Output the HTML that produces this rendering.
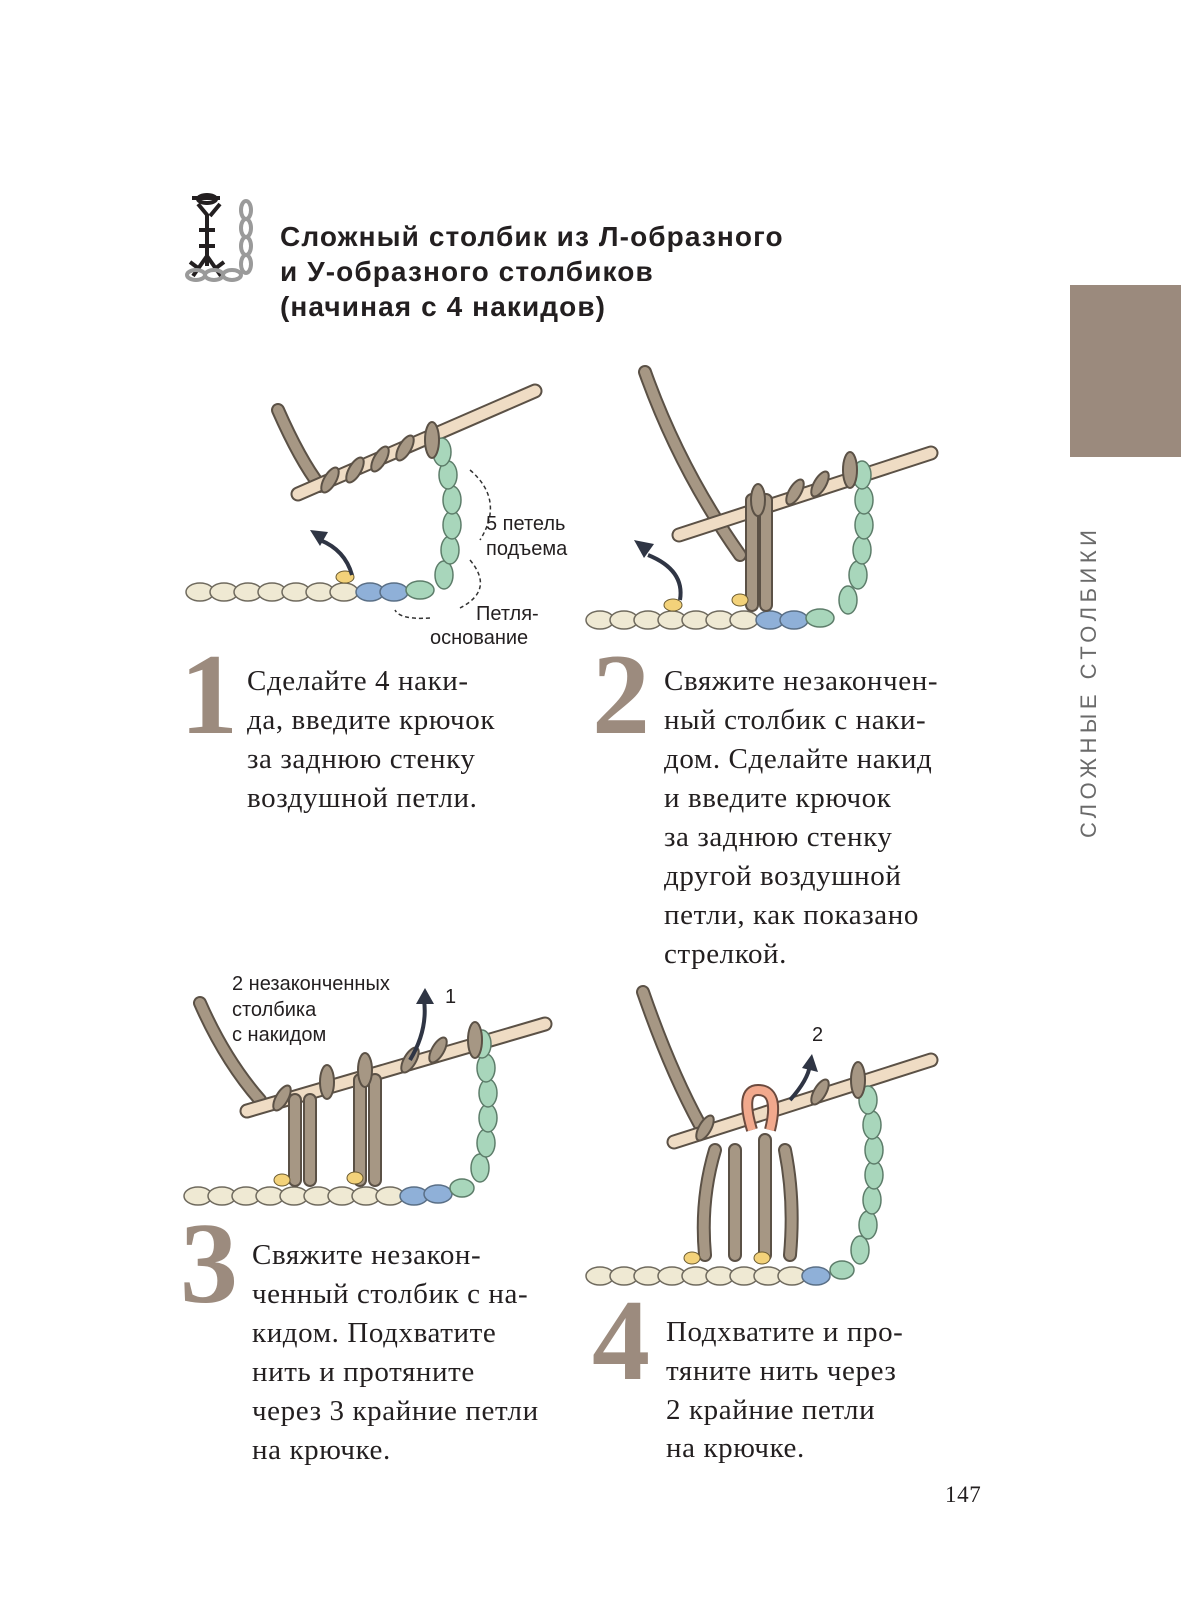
<!DOCTYPE html>
<html><head><meta charset="utf-8"><style>
html,body{margin:0;padding:0;background:#fff}
svg{display:block}
.t{font-family:"Liberation Serif",serif;font-size:29px;letter-spacing:0.6px;fill:#231f20}
.n{font-family:"Liberation Serif",serif;font-weight:bold;font-size:116px;fill:#9c8b7e}
.h{font-family:"Liberation Sans",sans-serif;font-weight:bold;font-size:28px;letter-spacing:1.1px;fill:#231f20}
.l{font-family:"Liberation Sans",sans-serif;font-size:20px;fill:#231f20}
.c{fill:#efe9d3;stroke:#6f6a5e;stroke-width:1.5}
.b{fill:#8fb0d8;stroke:#5a6f86;stroke-width:1.5}
.g{fill:#a8d6bb;stroke:#5d7d6a;stroke-width:1.5}
.y{fill:none;stroke:#5b5146;stroke-width:14;stroke-linecap:round}
.yi{fill:none;stroke:#a69784;stroke-width:10;stroke-linecap:round}
.hk{stroke:#5b5146;stroke-width:15;stroke-linecap:round}
.hki{stroke:#efdcc4;stroke-width:11;stroke-linecap:round}
</style></head><body>
<svg width="1181" height="1614" viewBox="0 0 1181 1614" xmlns="http://www.w3.org/2000/svg">
<rect x="1070" y="285" width="111" height="172" fill="#9b8a7d"/>
<text transform="translate(1096,838) rotate(-90)" style="font-family:'Liberation Sans',sans-serif;font-size:22px;letter-spacing:4.5px;fill:#6a6a6a">СЛОЖНЫЕ СТОЛБИКИ</text>

<!-- icon -->
<g stroke="#231f20" stroke-width="4" fill="none">
<path d="M192 198h28M198 204l10 12M220 204l-10 12M207 214v52M199 230h16M199 246h16M207 256l-14 20M207 256l14 20M190 262l8 6M224 262l-8 6"/>
<ellipse cx="207" cy="199" rx="9" ry="4"/>
</g>
<g fill="none" stroke="#9a9a9a" stroke-width="4">
<ellipse cx="246" cy="210" rx="5" ry="9"/><ellipse cx="246" cy="228" rx="5" ry="9"/><ellipse cx="246" cy="246" rx="5" ry="9"/><ellipse cx="246" cy="264" rx="5" ry="9"/>
<ellipse cx="196" cy="275" rx="9" ry="5"/><ellipse cx="214" cy="275" rx="9" ry="5"/><ellipse cx="232" cy="275" rx="9" ry="5"/>
</g>
<text class="h" x="280" y="246">Сложный столбик из Л-образного</text>
<text class="h" x="280" y="281">и У-образного столбиков</text>
<text class="h" x="280" y="316">(начиная с 4 накидов)</text>

<!-- Panel 1 -->
<path class="y" d="M278 410 Q300 460 320 486"/><path class="yi" d="M278 410 Q300 460 320 486"/>
<line class="hk" x1="298" y1="494" x2="535" y2="391"/><line class="hki" x1="298" y1="494" x2="535" y2="391"/>
<g class="c"><ellipse cx="200" cy="592" rx="14" ry="9"/><ellipse cx="224" cy="592" rx="14" ry="9"/><ellipse cx="248" cy="592" rx="14" ry="9"/><ellipse cx="272" cy="592" rx="14" ry="9"/><ellipse cx="296" cy="592" rx="14" ry="9"/><ellipse cx="320" cy="592" rx="14" ry="9"/><ellipse cx="344" cy="592" rx="14" ry="9"/></g>
<g class="b"><ellipse cx="370" cy="592" rx="14" ry="9"/><ellipse cx="394" cy="592" rx="14" ry="9"/></g>
<g class="g"><ellipse cx="420" cy="590" rx="14" ry="9"/><ellipse cx="444" cy="575" rx="9" ry="14"/><ellipse cx="450" cy="550" rx="9" ry="14"/><ellipse cx="452" cy="525" rx="9" ry="14"/><ellipse cx="452" cy="500" rx="9" ry="14"/><ellipse cx="448" cy="475" rx="9" ry="14"/><ellipse cx="442" cy="452" rx="9" ry="14"/></g>
<g fill="#a69784" stroke="#5b5146" stroke-width="2"><ellipse cx="330" cy="480" rx="6" ry="14" transform="rotate(30 330 480)"/><ellipse cx="355" cy="470" rx="6" ry="14" transform="rotate(30 355 470)"/><ellipse cx="380" cy="459" rx="6" ry="14" transform="rotate(30 380 459)"/><ellipse cx="405" cy="448" rx="6" ry="14" transform="rotate(30 405 448)"/><ellipse cx="432" cy="440" rx="7" ry="18"/></g>
<ellipse cx="345" cy="577" rx="9" ry="6" fill="#f3d27a" stroke="#6a5a30"/>
<path d="M352 575 Q345 550 320 540" fill="none" stroke="#2f3544" stroke-width="4"/><path d="M310 530 l18 2 -8 14z" fill="#2f3544"/>
<path d="M470 470 Q505 500 480 540 M470 560 Q495 590 460 608 M430 618 Q400 620 395 610" fill="none" stroke="#333" stroke-width="1.5" stroke-dasharray="4 3"/>
<text class="l" x="486" y="530">5 петель</text><text class="l" x="486" y="555">подъема</text>
<text class="l" x="476" y="620">Петля-</text><text class="l" x="430" y="644">основание</text>

<text class="n" x="180" y="733">1</text>
<text class="t"><tspan x="247" y="690">Сделайте 4 наки-</tspan><tspan x="247" y="729">да, введите крючок</tspan><tspan x="247" y="768">за заднюю стенку</tspan><tspan x="247" y="807">воздушной петли.</tspan></text>

<!-- Panel 2 -->
<path class="y" d="M645 372 Q680 470 740 555"/><path class="yi" d="M645 372 Q680 470 740 555"/>
<line class="hk" x1="679" y1="535" x2="931" y2="453"/><line class="hki" x1="679" y1="535" x2="931" y2="453"/>
<g class="c"><ellipse cx="600" cy="620" rx="14" ry="9"/><ellipse cx="624" cy="620" rx="14" ry="9"/><ellipse cx="648" cy="620" rx="14" ry="9"/><ellipse cx="672" cy="620" rx="14" ry="9"/><ellipse cx="696" cy="620" rx="14" ry="9"/><ellipse cx="720" cy="620" rx="14" ry="9"/><ellipse cx="744" cy="620" rx="14" ry="9"/></g>
<g class="b"><ellipse cx="770" cy="620" rx="14" ry="9"/><ellipse cx="794" cy="620" rx="14" ry="9"/></g>
<g class="g"><ellipse cx="820" cy="618" rx="14" ry="9"/><ellipse cx="848" cy="600" rx="9" ry="14"/><ellipse cx="858" cy="575" rx="9" ry="14"/><ellipse cx="862" cy="550" rx="9" ry="14"/><ellipse cx="864" cy="525" rx="9" ry="14"/><ellipse cx="864" cy="500" rx="9" ry="14"/><ellipse cx="862" cy="475" rx="9" ry="14"/></g>
<g><path class="y" d="M752 500 L752 605 M766 500 L766 605"/><path class="yi" d="M752 500 L752 605 M766 500 L766 605"/></g>
<g fill="#a69784" stroke="#5b5146" stroke-width="2"><ellipse cx="758" cy="500" rx="7" ry="16"/><ellipse cx="795" cy="492" rx="6" ry="14" transform="rotate(30 795 492)"/><ellipse cx="820" cy="484" rx="6" ry="14" transform="rotate(30 820 484)"/><ellipse cx="850" cy="470" rx="7" ry="18"/></g>
<ellipse cx="673" cy="605" rx="9" ry="6" fill="#f3d27a" stroke="#6a5a30"/><ellipse cx="740" cy="600" rx="8" ry="6" fill="#f3d27a" stroke="#6a5a30"/>
<path d="M680 600 Q685 570 648 555" fill="none" stroke="#2f3544" stroke-width="4"/><path d="M634 540 l20 4 -10 14z" fill="#2f3544"/>

<text class="n" x="592" y="733">2</text>
<text class="t"><tspan x="664" y="690">Свяжите незакончен-</tspan><tspan x="664" y="729">ный столбик с наки-</tspan><tspan x="664" y="768">дом. Сделайте накид</tspan><tspan x="664" y="807">и введите крючок</tspan><tspan x="664" y="846">за заднюю стенку</tspan><tspan x="664" y="885">другой воздушной</tspan><tspan x="664" y="924">петли, как показано</tspan><tspan x="664" y="963">стрелкой.</tspan></text>

<!-- Panel 3 -->
<path class="y" d="M200 1003 Q225 1060 260 1100"/><path class="yi" d="M200 1003 Q225 1060 260 1100"/>
<line class="hk" x1="247" y1="1111" x2="545" y2="1024"/><line class="hki" x1="247" y1="1111" x2="545" y2="1024"/>
<g class="c"><ellipse cx="198" cy="1196" rx="14" ry="9"/><ellipse cx="222" cy="1196" rx="14" ry="9"/><ellipse cx="246" cy="1196" rx="14" ry="9"/><ellipse cx="270" cy="1196" rx="14" ry="9"/><ellipse cx="294" cy="1196" rx="14" ry="9"/><ellipse cx="318" cy="1196" rx="14" ry="9"/><ellipse cx="342" cy="1196" rx="14" ry="9"/><ellipse cx="366" cy="1196" rx="14" ry="9"/><ellipse cx="390" cy="1196" rx="14" ry="9"/></g>
<g class="b"><ellipse cx="414" cy="1196" rx="14" ry="9"/><ellipse cx="438" cy="1194" rx="14" ry="9"/></g>
<g class="g"><ellipse cx="462" cy="1188" rx="12" ry="9"/><ellipse cx="480" cy="1168" rx="9" ry="14"/><ellipse cx="486" cy="1143" rx="9" ry="14"/><ellipse cx="488" cy="1118" rx="9" ry="14"/><ellipse cx="488" cy="1093" rx="9" ry="14"/><ellipse cx="486" cy="1068" rx="9" ry="14"/><ellipse cx="482" cy="1044" rx="9" ry="14"/></g>
<g><path class="y" d="M295 1100 L295 1180 M310 1100 L310 1180 M360 1080 L360 1180 M375 1080 L375 1180"/><path class="yi" d="M295 1100 L295 1180 M310 1100 L310 1180 M360 1080 L360 1180 M375 1080 L375 1180"/></g>
<g fill="#a69784" stroke="#5b5146" stroke-width="2"><ellipse cx="282" cy="1098" rx="6" ry="14" transform="rotate(30 282 1098)"/><ellipse cx="327" cy="1082" rx="7" ry="17"/><ellipse cx="365" cy="1070" rx="7" ry="17"/><ellipse cx="410" cy="1060" rx="6" ry="14" transform="rotate(30 410 1060)"/><ellipse cx="438" cy="1050" rx="6" ry="14" transform="rotate(30 438 1050)"/><ellipse cx="475" cy="1040" rx="7" ry="18"/></g>
<ellipse cx="282" cy="1180" rx="8" ry="6" fill="#f3d27a" stroke="#6a5a30"/><ellipse cx="355" cy="1178" rx="8" ry="6" fill="#f3d27a" stroke="#6a5a30"/>
<path d="M410 1060 Q428 1030 424 1000" fill="none" stroke="#2f3544" stroke-width="4"/><path d="M416 1004 l9 -16 9 16z" fill="#2f3544"/>
<text class="l" x="445" y="1003">1</text>
<text class="l" x="232" y="990">2 незаконченных</text><text class="l" x="232" y="1016">столбика</text><text class="l" x="232" y="1041">с накидом</text>

<text class="n" x="180" y="1302">3</text>
<text class="t"><tspan x="252" y="1264">Свяжите незакон-</tspan><tspan x="252" y="1303">ченный столбик с на-</tspan><tspan x="252" y="1342">кидом. Подхватите</tspan><tspan x="252" y="1381">нить и протяните</tspan><tspan x="252" y="1420">через 3 крайние петли</tspan><tspan x="252" y="1459">на крючке.</tspan></text>

<!-- Panel 4 -->
<path class="y" d="M643 992 Q670 1070 700 1125"/><path class="yi" d="M643 992 Q670 1070 700 1125"/>
<line class="hk" x1="674" y1="1142" x2="931" y2="1060"/><line class="hki" x1="674" y1="1142" x2="931" y2="1060"/>
<g class="c"><ellipse cx="600" cy="1276" rx="14" ry="9"/><ellipse cx="624" cy="1276" rx="14" ry="9"/><ellipse cx="648" cy="1276" rx="14" ry="9"/><ellipse cx="672" cy="1276" rx="14" ry="9"/><ellipse cx="696" cy="1276" rx="14" ry="9"/><ellipse cx="720" cy="1276" rx="14" ry="9"/><ellipse cx="744" cy="1276" rx="14" ry="9"/><ellipse cx="768" cy="1276" rx="14" ry="9"/><ellipse cx="792" cy="1276" rx="14" ry="9"/></g>
<g class="b"><ellipse cx="816" cy="1276" rx="14" ry="9"/></g>
<g class="g"><ellipse cx="842" cy="1270" rx="12" ry="9"/><ellipse cx="860" cy="1250" rx="9" ry="14"/><ellipse cx="868" cy="1225" rx="9" ry="14"/><ellipse cx="872" cy="1200" rx="9" ry="14"/><ellipse cx="874" cy="1175" rx="9" ry="14"/><ellipse cx="874" cy="1150" rx="9" ry="14"/><ellipse cx="872" cy="1125" rx="9" ry="14"/><ellipse cx="868" cy="1100" rx="9" ry="14"/></g>
<g><path class="y" d="M715 1150 Q700 1200 705 1255 M735 1150 L735 1255 M765 1140 L765 1255 M785 1150 Q795 1200 790 1255"/><path class="yi" d="M715 1150 Q700 1200 705 1255 M735 1150 L735 1255 M765 1140 L765 1255 M785 1150 Q795 1200 790 1255"/></g>
<path d="M752 1130 Q740 1090 758 1090 Q780 1090 770 1130" fill="none" stroke="#6b4a3e" stroke-width="12"/><path d="M752 1130 Q740 1090 758 1090 Q780 1090 770 1130" fill="none" stroke="#f2a98d" stroke-width="8"/>
<g fill="#a69784" stroke="#5b5146" stroke-width="2"><ellipse cx="705" cy="1128" rx="6" ry="14" transform="rotate(30 705 1128)"/><ellipse cx="820" cy="1092" rx="6" ry="14" transform="rotate(30 820 1092)"/><ellipse cx="858" cy="1080" rx="7" ry="18"/></g>
<ellipse cx="692" cy="1258" rx="8" ry="6" fill="#f3d27a" stroke="#6a5a30"/><ellipse cx="762" cy="1258" rx="8" ry="6" fill="#f3d27a" stroke="#6a5a30"/>
<path d="M790 1100 Q808 1080 810 1065" fill="none" stroke="#2f3544" stroke-width="4"/><path d="M802 1068 l10 -14 6 18z" fill="#2f3544"/>
<text class="l" x="812" y="1041">2</text>

<text class="n" x="592" y="1379">4</text>
<text class="t"><tspan x="666" y="1341">Подхватите и про-</tspan><tspan x="666" y="1380">тяните нить через</tspan><tspan x="666" y="1419">2 крайние петли</tspan><tspan x="666" y="1457">на крючке.</tspan></text>

<text class="t" x="945" y="1502" style="font-size:23px">147</text>
</svg>
</body></html>
